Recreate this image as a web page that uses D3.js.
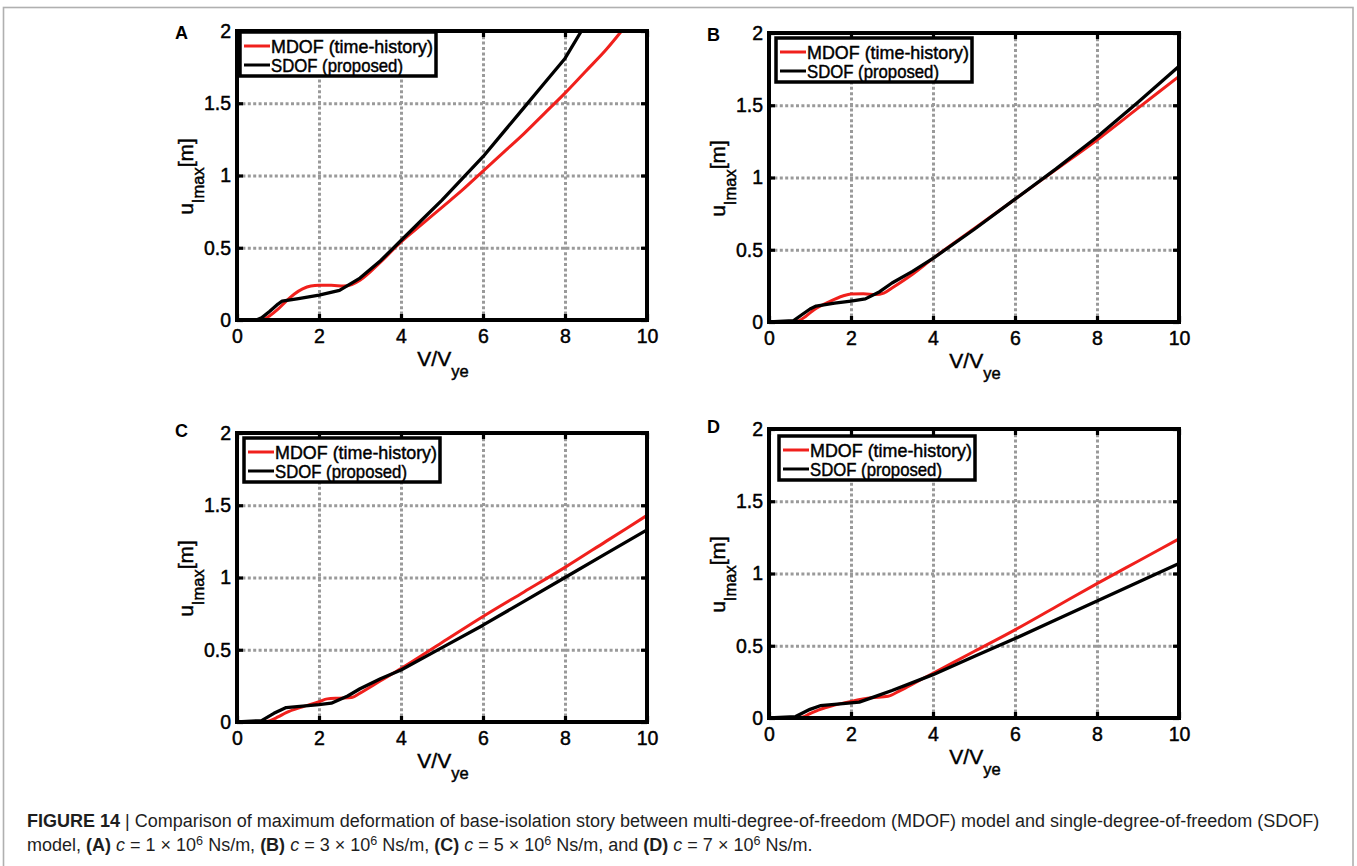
<!DOCTYPE html>
<html>
<head>
<meta charset="utf-8">
<script src="https://cdn.jsdelivr.net/npm/d3@7"></script>
<style>
  body { margin: 0; background: #fff; }
  svg { display: block; font-family: "Liberation Sans", Arial, sans-serif; }
  .grid line { stroke: #9a9a9a; stroke-width: 3; stroke-dasharray: 3,2.4; }
  .grid path { display: none; }
  .heavy { stroke: #000; stroke-width: 0.45; }
</style>
</head>
<body>
<svg width="1357" height="866"></svg>
<script>
// Data: [V/Vye, u_Imax (m)]
var mdofA = [[0,0],[0.5,0],[0.65,0.005],[0.8,0.03],[1.0,0.075],[1.2,0.13],[1.4,0.18],[1.6,0.215],[1.8,0.235],[2.0,0.24],[2.3,0.24],[2.6,0.235],[2.8,0.245],[3.0,0.275],[3.5,0.40],[4.0,0.54],[4.5,0.66],[5.0,0.78],[5.5,0.90],[6.0,1.03],[6.5,1.16],[7.0,1.29],[7.5,1.43],[8.0,1.57],[8.5,1.72],[9.0,1.87],[9.38,2.0]];
var sdofA = [[0,0],[0.5,0.003],[0.6,0.015],[0.8,0.06],[1.0,0.11],[1.1,0.13],[1.5,0.148],[2.0,0.172],[2.5,0.205],[3.0,0.29],[3.5,0.41],[4.0,0.55],[4.5,0.69],[5.0,0.83],[5.5,0.98],[6.0,1.13],[6.5,1.30],[7.0,1.47],[7.5,1.64],[8.0,1.81],[8.4,2.0]];

var mdofB = [[0,0],[0.6,0],[0.7,0.005],[0.9,0.04],[1.1,0.085],[1.5,0.145],[1.8,0.18],[2.0,0.194],[2.3,0.195],[2.6,0.19],[2.8,0.2],[3.0,0.235],[3.5,0.33],[4.0,0.44],[5.0,0.645],[6.0,0.85],[7.0,1.055],[8.0,1.26],[9.0,1.48],[10.0,1.70]];
var sdofB = [[0,0],[0.6,0.01],[0.8,0.05],[1.0,0.09],[1.15,0.11],[1.6,0.13],[2.0,0.145],[2.35,0.16],[2.7,0.21],[3.0,0.27],[3.5,0.35],[4.0,0.44],[5.0,0.64],[6.0,0.85],[7.0,1.06],[8.0,1.28],[9.0,1.52],[10.0,1.77]];

var mdofC = [[0,0],[0.65,0],[0.75,0.005],[1.0,0.035],[1.2,0.065],[1.6,0.105],[2.0,0.14],[2.2,0.16],[2.5,0.165],[2.8,0.17],[3.0,0.2],[3.5,0.285],[4.0,0.37],[5.0,0.55],[6.0,0.73],[7.0,0.90],[8.0,1.07],[9.0,1.25],[10.0,1.43]];
var sdofC = [[0,0],[0.6,0.01],[0.9,0.06],[1.2,0.10],[1.6,0.11],[2.0,0.12],[2.3,0.13],[2.7,0.18],[3.0,0.23],[3.5,0.30],[4.0,0.36],[5.0,0.515],[6.0,0.67],[7.0,0.835],[8.0,1.00],[9.0,1.165],[10.0,1.33]];

var mdofD = [[0,0],[0.7,0],[0.8,0.005],[1.0,0.03],[1.2,0.055],[1.6,0.09],[2.0,0.115],[2.5,0.14],[2.9,0.15],[3.2,0.19],[3.6,0.25],[4.0,0.31],[5.0,0.46],[6.0,0.61],[7.0,0.77],[8.0,0.93],[9.0,1.085],[10.0,1.24]];
var sdofD = [[0,0],[0.65,0.01],[1.0,0.06],[1.25,0.085],[1.6,0.095],[2.2,0.11],[2.6,0.15],[3.0,0.19],[3.5,0.245],[4.0,0.30],[5.0,0.425],[6.0,0.55],[7.0,0.68],[8.0,0.81],[9.0,0.94],[10.0,1.07]];

var panelLetters = ['A', 'B', 'C', 'D'];
var seriesNames = ['MDOF (time-history)', 'SDOF (proposed)'];
var xTicks = [0, 2, 4, 6, 8, 10];
var yTicks = [0, 0.5, 1, 1.5, 2];
var xTickLabels = ['0', '2', '4', '6', '8', '10'];
var yTickLabels = ['0', '0.5', '1', '1.5', '2'];

// layout of the four panels (pixels)
var panels = [
  { letter: 0, mdof: mdofA, sdof: sdofA, left: 237, top: 31, legDx: 3,  legDy: 1 },
  { letter: 1, mdof: mdofB, sdof: sdofB, left: 769, top: 33, legDx: 7,  legDy: 5 },
  { letter: 2, mdof: mdofC, sdof: sdofC, left: 237, top: 433, legDx: 7, legDy: 5 },
  { letter: 3, mdof: mdofD, sdof: sdofD, left: 769, top: 429, legDx: 10, legDy: 7 }
];
var pw = 410, ph = 289;

var svg = d3.select('svg');

// outer frame of the figure
svg.append('rect')
  .attr('x', 3.5).attr('y', 7.5)
  .attr('width', 1349.5).attr('height', 900)
  .attr('fill', 'none').attr('stroke', '#b0b0b0').attr('stroke-width', 1.6);

var x = d3.scaleLinear().domain([0, 10]).range([0, pw]);
var y = d3.scaleLinear().domain([0, 2]).range([ph, 0]);

var redLine = d3.line().x(function (d) { return x(d[0]); }).y(function (d) { return y(d[1]); })
  .curve(d3.curveMonotoneX);
var blackLine = d3.line().x(function (d) { return x(d[0]); }).y(function (d) { return y(d[1]); });

panels.forEach(function (p) {
  var g = svg.append('g').attr('transform', 'translate(' + p.left + ',' + p.top + ')');

  // dotted grid
  g.append('g').attr('class', 'grid')
    .attr('transform', 'translate(0,' + ph + ')')
    .call(d3.axisBottom(x).tickValues(xTicks.slice(1, -1)).tickSize(-ph).tickFormat(''));
  g.append('g').attr('class', 'grid')
    .call(d3.axisLeft(y).tickValues(yTicks.slice(1, -1)).tickSize(-pw).tickFormat(''));

  // curves
  g.append('path').datum(p.mdof).attr('d', redLine)
    .attr('fill', 'none').attr('stroke', '#f0201c').attr('stroke-width', 3);
  g.append('path').datum(p.sdof).attr('d', blackLine)
    .attr('fill', 'none').attr('stroke', '#000').attr('stroke-width', 3.3)
    .attr('stroke-linejoin', 'round');

  // inward ticks on all four sides
  var tickStyle = function (sel) {
    sel.select('.domain').remove();
    sel.selectAll('line').attr('stroke', '#000').attr('stroke-width', 3.2);
  };
  g.append('g').attr('transform', 'translate(0,' + ph + ')')
    .call(d3.axisBottom(x).tickValues(xTicks).tickSize(-6).tickFormat('')).call(tickStyle);
  g.append('g')
    .call(d3.axisTop(x).tickValues(xTicks).tickSize(-6).tickFormat('')).call(tickStyle);
  g.append('g')
    .call(d3.axisLeft(y).tickValues(yTicks).tickSize(-6).tickFormat('')).call(tickStyle);
  g.append('g').attr('transform', 'translate(' + pw + ',0)')
    .call(d3.axisRight(y).tickValues(yTicks).tickSize(-6).tickFormat('')).call(tickStyle);

  // tick labels
  var xl = g.append('g').attr('transform', 'translate(0,' + ph + ')')
    .call(d3.axisBottom(x).tickValues(xTicks).tickSize(0).tickPadding(9)
      .tickFormat(function (d, i) { return xTickLabels[i]; }));
  xl.select('.domain').remove();
  xl.selectAll('text').attr('font-size', 19.5).attr('font-family', '"Liberation Sans", Arial, sans-serif')
    .attr('fill', '#000').attr('class', 'heavy');
  var yl = g.append('g')
    .call(d3.axisLeft(y).tickValues(yTicks).tickSize(0).tickPadding(6)
      .tickFormat(function (d, i) { return yTickLabels[i]; }));
  yl.select('.domain').remove();
  yl.selectAll('text').attr('font-size', 19.5).attr('font-family', '"Liberation Sans", Arial, sans-serif')
    .attr('fill', '#000').attr('class', 'heavy');

  // frame
  g.append('rect').attr('width', pw).attr('height', ph)
    .attr('fill', 'none').attr('stroke', '#000').attr('stroke-width', 4);

  // legend
  var lg = g.append('g').attr('transform', 'translate(' + p.legDx + ',' + p.legDy + ')');
  lg.append('rect').attr('width', 196).attr('height', 44)
    .attr('fill', '#fff').attr('stroke', '#000').attr('stroke-width', 3.5);
  [0, 1].forEach(function (k) {
    var yy = 14 + k * 19;
    lg.append('line').attr('x1', 4).attr('x2', 30).attr('y1', yy).attr('y2', yy)
      .attr('stroke', k === 0 ? '#f0201c' : '#000').attr('stroke-width', 3);
    lg.append('text').attr('x', 31).attr('y', yy + 6.5)
      .attr('font-size', 18.5).attr('fill', '#000').attr('class', 'heavy')
      .attr('textLength', k === 0 ? 162 : 132).attr('lengthAdjust', 'spacingAndGlyphs')
      .text(seriesNames[k]);
  });

  // axis titles
  var xt = g.append('text').attr('x', pw / 2 + 1).attr('y', ph + 46)
    .attr('text-anchor', 'middle').attr('font-size', 21).attr('fill', '#000').attr('class', 'heavy');
  xt.append('tspan').text('V/V');
  xt.append('tspan').attr('dy', 11).attr('font-size', 16.5).text('ye');

  var yt = g.append('text')
    .attr('transform', 'translate(-44,' + (ph / 2 + 1) + ') rotate(-90)')
    .attr('text-anchor', 'middle').attr('font-size', 21).attr('fill', '#000').attr('class', 'heavy');
  yt.append('tspan').text('u');
  yt.append('tspan').attr('dy', 11).attr('font-size', 16.5).text('Imax');
  yt.append('tspan').attr('dy', -11).text('[m]');

  // panel letter
  g.append('text').attr('x', -62).attr('y', p.letter < 2 ? 8 : 4)
    .attr('font-size', 18).attr('font-weight', 'bold').attr('fill', '#000')
    .text(panelLetters[p.letter]);
});

// caption
var cap = svg.append('g').attr('fill', '#1e1e1e')
  .attr('font-family', '"Liberation Sans", Arial, Helvetica, sans-serif');
var line1 = cap.append('text').attr('x', 27).attr('y', 827).attr('font-size', 15);
line1.append('tspan').attr('font-weight', 'bold').text('FIGURE 14');
line1.append('tspan').text(' | Comparison of maximum deformation of base-isolation story between multi-degree-of-freedom (MDOF) model and single-degree-of-freedom (SDOF)');

var line2 = cap.append('text').attr('x', 27).attr('y', 851).attr('font-size', 15);
var parts = [
  ['model, ', ''], ['(A)', 'b'], [' ', ''], ['c', 'i'], [' = 1 ×  10', ''], ['6', 's'], [' Ns/m, ', ''],
  ['(B)', 'b'], [' ', ''], ['c', 'i'], [' = 3 ×  10', ''], ['6', 's'], [' Ns/m, ', ''],
  ['(C)', 'b'], [' ', ''], ['c', 'i'], [' = 5 ×  10', ''], ['6', 's'], [' Ns/m, and ', ''],
  ['(D)', 'b'], [' ', ''], ['c', 'i'], [' = 7 ×  10', ''], ['6', 's'], [' Ns/m.', '']
];
var prevSup = false;
parts.forEach(function (pt) {
  var t = line2.append('tspan').text(pt[0]);
  if (pt[1] === 'b') t.attr('font-weight', 'bold');
  if (pt[1] === 'i') t.attr('font-style', 'italic');
  if (pt[1] === 's') { t.attr('font-size', 10.5).attr('dy', -6); prevSup = true; }
  else if (prevSup) { t.attr('dy', 6); prevSup = false; }
});

// fit caption width to the reference
var want = 1293;
var got = line1.node().getComputedTextLength();
var fs = 15 * want / got;
line1.attr('font-size', fs);
line2.attr('font-size', fs);
line2.selectAll('tspan').filter(function () { return d3.select(this).attr('font-size'); })
  .attr('font-size', fs * 0.7);
</script>
</body>
</html>
